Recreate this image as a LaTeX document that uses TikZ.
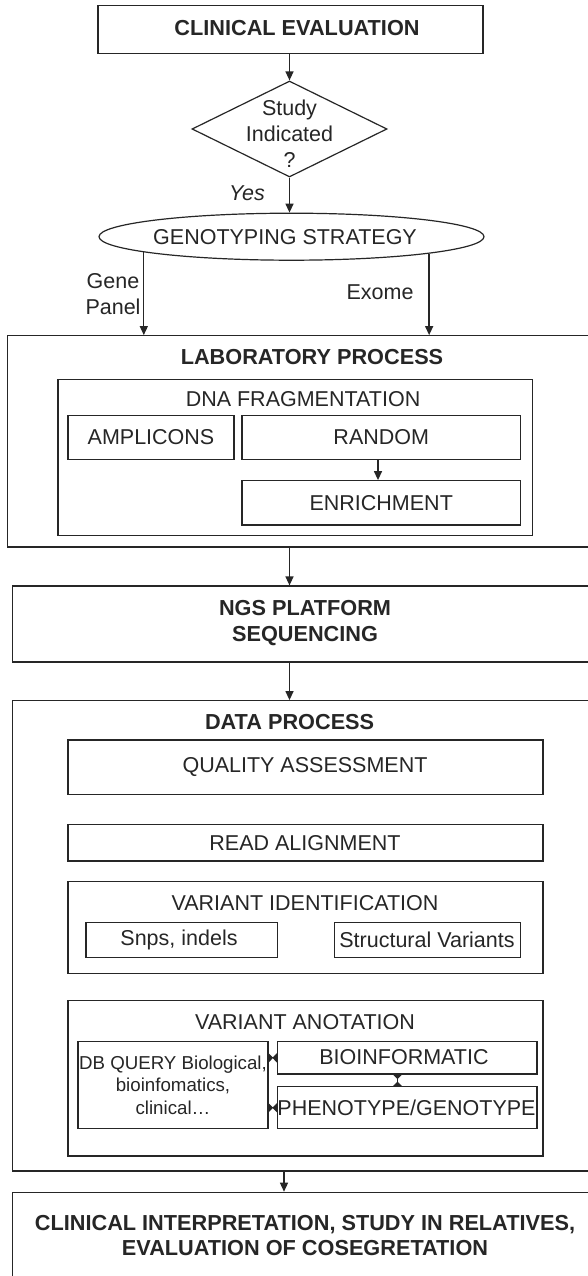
\documentclass[tikz,border=0pt]{standalone}
\usepackage{fontspec}
\setmainfont{Liberation Sans}
\usetikzlibrary{shapes.geometric,arrows.meta}
\definecolor{ink}{HTML}{262626}
\tikzset{
  frame/.style={draw=ink, line width=1.2pt, inner sep=0pt, rectangle, text=ink, font=\fontsize{21.5}{26}\selectfont},
  txt/.style={inner sep=0pt, text=ink, font=\fontsize{21.5}{26}\selectfont, align=center},
  btxt/.style={inner sep=0pt, text=ink, font=\fontsize{21.7}{25.5}\selectfont\bfseries, align=center},
  arr/.style={draw=ink, line width=1.3pt, -{Triangle[length=9pt,width=8pt]}},
  tie/.style={draw=ink, line width=1pt, {Triangle[reversed,length=5pt,width=10pt]}-{Triangle[reversed,length=5pt,width=10pt]}, shorten <=-0.5pt, shorten >=-0.5pt}
}
\begin{document}
\begin{tikzpicture}[x=1pt,y=-1pt]
\useasboundingbox (0,0) rectangle (588,1276);
\clip (0,0) rectangle (588,1276);
\fill[white] (0,0) rectangle (588,1276);

% clinical evaluation and decision
\node[frame, minimum width=385pt, minimum height=48pt] (ce) at (290.5,29.3) {};
\node[btxt] (cet) at (297,28) {CLINICAL EVALUATION};
\node[draw=ink, line width=1.2pt, diamond, inner sep=0pt, minimum width=195pt, minimum height=96pt] (dia) at (289.5,129) {};
\node[txt] (diat) at (289.5,134) {Study\\Indicated\\?};
\node[txt, font=\fontsize{21.5}{26}\selectfont\itshape] (yes) at (247,193) {Yes};
\node[draw=ink, line width=1.2pt, ellipse, inner sep=0pt, minimum width=385pt, minimum height=47pt] (ell) at (291.5,236.7) {};
\node[txt] (ellt) at (285,237) {GENOTYPING STRATEGY};
\node[txt, font=\fontsize{21.5}{25.7}\selectfont] (gene) at (113,294) {Gene\\Panel};
\node[txt] (exome) at (380,292) {Exome};

% laboratory process
\node[frame, minimum width=602.5pt, minimum height=211.3pt] (lab) at (308.75,441.35) {};
\node[btxt] (labt) at (312,356.7) {LABORATORY PROCESS};
\node[frame, minimum width=474.5pt, minimum height=156pt] (dna) at (295.25,457.3) {};
\node[txt] (dnat) at (303,399) {DNA FRAGMENTATION};
\node[frame, minimum width=166pt, minimum height=43.6pt] (amp) at (151,437.5) {AMPLICONS};
\node[frame, minimum width=278.5pt, minimum height=43.6pt] (rand) at (381.25,437.5) {RANDOM};
\node[frame, minimum width=278.5pt, minimum height=44.3pt] (enr) at (381.25,502.85) {ENRICHMENT};

% sequencing
\node[frame, minimum width=597.25pt, minimum height=76pt] (ngs) at (311.4,624) {};
\node[btxt] (ngst) at (305,623.3) {NGS PLATFORM\\SEQUENCING};

% data process
\node[frame, minimum width=597.25pt, minimum height=470.3pt] (data) at (311.4,935.85) {};
\node[btxt] (datat) at (289.6,721.7) {DATA PROCESS};
\node[frame, minimum width=475pt, minimum height=54.3pt] (qual) at (305.5,767.15) {};
\node[txt] (qualt) at (305,766.7) {QUALITY ASSESSMENT};
\node[frame, minimum width=475pt, minimum height=36.7pt] (read) at (305.5,842.65) {};
\node[txt] (readt) at (305,842.7) {READ ALIGNMENT};
\node[frame, minimum width=475pt, minimum height=91.6pt] (vid) at (305.5,927.5) {};
\node[txt] (vidt) at (305,902.7) {VARIANT IDENTIFICATION};
\node[frame, minimum width=191.5pt, minimum height=34.6pt] (snp) at (181.75,940) {};
\node[txt] (snpt) at (179,940) {Snps, indels};
\node[frame, minimum width=186pt, minimum height=34.6pt] (sv) at (427.5,940) {};
\node[txt] (svt) at (427,940) {Structural Variants};
\node[frame, minimum width=475pt, minimum height=155.3pt] (van) at (305.5,1078.35) {};
\node[txt] (vant) at (305,1021.7) {VARIANT ANOTATION};
\node[frame, minimum width=190pt, minimum height=87pt] (db) at (173,1085.2) {};
\node[txt, font=\fontsize{18.7}{22.7}\selectfont] (dbt) at (173,1085.2) {DB QUERY Biological,\\bioinfomatics,\\clinical…};
\node[frame, minimum width=259.5pt, minimum height=32.3pt] (bio) at (407.25,1057.85) {};
\node[txt] (biot) at (404,1057.3) {BIOINFORMATIC};
\node[frame, minimum width=259.5pt, minimum height=42pt] (phe) at (407.25,1107.7) {};
\node[txt] (phet) at (406.5,1107.7) {PHENOTYPE/GENOTYPE};

% final step
\node[frame, minimum width=597.25pt, minimum height=97.7pt] (fin) at (311.4,1241.15) {};
\node[btxt] (fint) at (305,1235.5) {CLINICAL INTERPRETATION, STUDY IN RELATIVES,\\EVALUATION OF COSEGRETATION};

% connectors
\draw[arr] (dia.north |- ce.south) -- (dia.north);
\draw[arr] (dia.south) -- (ell.north -| dia.south);
\draw[arr] (ell.186.7) -- (ell.186.7 |- lab.north);
\draw[arr] (ell.-7.55) -- (ell.-7.55 |- lab.north);
\draw[arr] ([xshift=-3.25pt]rand.south) -- ([xshift=-3.25pt]enr.north);
\draw[arr] (lab.south -| dia.south) -- (ngs.north -| dia.south);
\draw[arr] (ngs.south -| dia.south) -- (data.north -| dia.south);
\draw[arr] ([xshift=-5.6pt]data.south -| datat.south) -- ([xshift=-5.6pt]fin.north -| datat.south);
\draw[tie] (db.east |- bio.center) -- (bio.west);
\draw[tie] (db.east |- phet.center) -- (phe.west |- phet.center);
\draw[tie] ([xshift=-9.75pt]bio.south) -- ([xshift=-9.75pt]phe.north);
\end{tikzpicture}
\end{document}
